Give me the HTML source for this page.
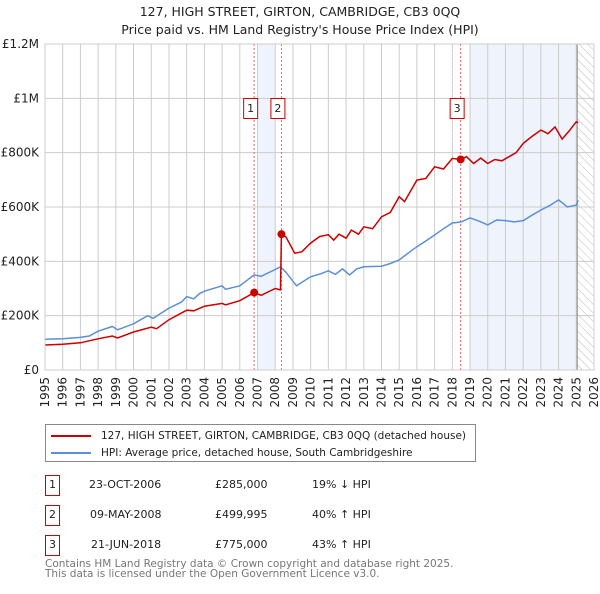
<!DOCTYPE html>
<html><head><meta charset="utf-8"><style>
body{margin:0;background:#fff;width:600px;height:590px;overflow:hidden;font-family:"DejaVu Sans","Liberation Sans",sans-serif}
svg text{font-family:"DejaVu Sans","Liberation Sans",sans-serif}
</style></head><body>
<svg id="c" width="600" height="590"></svg>
<script>
const yearTicks=[1995,1996,1997,1998,1999,2000,2001,2002,2003,2004,2005,2006,2007,2008,2009,2010,2011,2012,2013,2014,2015,2016,2017,2018,2019,2020,2021,2022,2023,2024,2025,2026];
const valueTicks=[0,200000,400000,600000,800000,1000000,1200000];
const valueTickLabels=["£0","£200K","£400K","£600K","£800K","£1M","£1.2M"];
const hpiYears=[1995,1996,1997,1997.5,1998,1998.8,1999.1,2000,2000.8,2001.1,2002,2002.7,2003,2003.4,2003.7,2004,2005,2005.2,2006,2006.8,2007.2,2008,2008.3,2008.6,2009.2,2010,2010.6,2011,2011.4,2011.8,2012.2,2012.6,2013,2014,2014.5,2015,2015.5,2016,2016.5,2017,2017.5,2018,2018.5,2019,2019.5,2020,2020.5,2021,2021.5,2022,2022.5,2023,2023.5,2024,2024.5,2025,2025.1];
const hpiValues=[113000,115000,120000,125000,143000,160000,148000,170000,200000,190000,228000,250000,270000,262000,280000,290000,310000,297000,310000,350000,345000,370000,380000,360000,310000,343000,355000,365000,352000,372000,350000,372000,380000,382000,392000,405000,430000,454000,475000,497000,520000,541000,545000,560000,548000,534000,552000,550000,545000,550000,570000,589000,605000,626000,600000,607000,625000,638000];
const redYears=[1995,1996,1997,1998,1998.8,1999.1,2000,2001,2001.3,2002,2003,2003.4,2004,2005,2005.2,2006,2006.81,2007.2,2008,2008.3,2008.35,2008.6,2009.1,2009.5,2010,2010.5,2011,2011.3,2011.6,2012,2012.3,2012.7,2013,2013.5,2014,2014.5,2015,2015.3,2016,2016.5,2017,2017.5,2018,2018.47,2018.8,2019.2,2019.6,2020,2020.4,2020.8,2021.2,2021.6,2022,2022.5,2023,2023.4,2023.8,2024.2,2024.6,2025,2025.1];
const redValues=[92000,95000,100000,115000,125000,118000,140000,158000,152000,185000,220000,218000,235000,245000,240000,255000,285000,275000,300000,295000,499995,490000,430000,435000,467000,491000,498000,478000,500000,485000,515000,500000,527000,520000,564000,580000,638000,620000,699000,705000,748000,740000,779000,775000,785000,760000,780000,760000,775000,770000,785000,800000,834000,860000,883000,870000,895000,850000,880000,914000,910000];
const sales=[{n:"1",y:2006.81,v:285000},{n:"2",y:2008.35,v:499995},{n:"3",y:2018.47,v:775000}];
const L=45,R=594,T=44,B=370;
const X=y=>L+(y-1995)*(R-L)/31;
const Y=v=>B-v*(B-T)/1200000;
const svg=document.getElementById('c');const NS="http://www.w3.org/2000/svg";
function el(t,a,p){const e=document.createElementNS(NS,t);for(const k in a)e.setAttribute(k,a[k]);(p||svg).appendChild(e);return e;}
const defs=el('defs',{});
const pat=el('pattern',{id:'h',width:6,height:6,patternUnits:'userSpaceOnUse',patternTransform:'rotate(-45)'},defs);
el('line',{x1:0,y1:0,x2:0,y2:6,stroke:'#bbb','stroke-width':1},pat);
let s=el('rect',{x:X(2007),y:T,width:X(2008)-X(2007),height:B-T,fill:'#eef3fc'});

s=el('rect',{x:X(2019),y:T,width:X(2025.05)-X(2019),height:B-T,fill:'#eef3fc'});

s=el('rect',{x:X(2025.05),y:T,width:R-X(2025.05),height:B-T,fill:'url(#h)'});

yearTicks.forEach(yr=>{const g=el('line',{x1:X(yr),x2:X(yr),y1:T,y2:B,stroke:'#ccc'});

const t=el('text',{x:0,y:0,transform:`translate(${X(yr)+4},${B+7}) rotate(-90)`,'text-anchor':'end','font-size':12,fill:'#222'});t.textContent=yr;
});
valueTicks.forEach((v,i)=>{const g=el('line',{x1:L,x2:R,y1:Y(v),y2:Y(v),stroke:'#ccc'});

const t=el('text',{x:39,y:Y(v)+4,'text-anchor':'end','font-size':12,fill:'#222'});t.textContent=valueTickLabels[i];
});
s=el('line',{x1:X(2025.05),x2:X(2025.05),y1:T,y2:B,stroke:'#888'});

sales.forEach(d=>{const l=el('line',{x1:X(d.y),x2:X(d.y),y1:T,y2:B,stroke:'#e66','stroke-dasharray':'2,2'});
});
const pts=(xs,vs)=>xs.map((x,i)=>X(x).toFixed(1)+','+Y(vs[i]).toFixed(1)).join(' ');
s=el('polyline',{points:pts(hpiYears,hpiValues),fill:'none',stroke:'#5b8fd6','stroke-width':1.5});

s=el('polyline',{points:pts(redYears,redValues),fill:'none',stroke:'#cc0000','stroke-width':1.5});

sales.forEach(d=>{const c=el('circle',{cx:X(d.y),cy:Y(d.v),r:4,fill:'#cc0000'});

const bx=el('rect',{x:X(d.y)-10.5,y:98.5,width:14,height:20,fill:'#fff',stroke:'#cc0000'});

const t=el('text',{x:X(d.y)-3.5,y:112,'text-anchor':'middle','font-size':11,fill:'#222'});t.textContent=d.n;
});
s=el('rect',{x:L,y:T,width:R-L,height:B-T,fill:'none',stroke:'#ccc'});

</script>
<div style="position:absolute;left:0;top:3px;width:600px;text-align:center;font-size:12.5px;line-height:18px;color:#222">127, HIGH STREET, GIRTON, CAMBRIDGE, CB3 0QQ<br>Price paid vs. HM Land Registry's House Price Index (HPI)</div>
<div style="position:absolute;left:45px;top:424px;width:429px;height:36px;border:1px solid #888;font-size:10.5px;color:#222">
<div style="position:absolute;left:5px;top:5px;white-space:nowrap"><span style="display:inline-block;width:40px;height:2px;background:#cc0000;vertical-align:middle;margin-right:10px"></span>127, HIGH STREET, GIRTON, CAMBRIDGE, CB3 0QQ (detached house)</div>
<div style="position:absolute;left:5px;top:22px;white-space:nowrap"><span style="display:inline-block;width:40px;height:2px;background:#5b8fd6;vertical-align:middle;margin-right:10px"></span>HPI: Average price, detached house, South Cambridgeshire</div>
</div>
<div style="font-size:11px;color:#222">
<div>
<div style="position:absolute;left:45px;top:475px;width:13px;height:19px;border:1px solid #cc0000;text-align:center;line-height:18px">1</div>
<div style="position:absolute;left:89px;top:478px">23-OCT-2006</div><div style="position:absolute;left:215px;top:478px">£285,000</div><div style="position:absolute;left:312px;top:478px">19% ↓ HPI</div></div>
<div>
<div style="position:absolute;left:45px;top:505px;width:13px;height:19px;border:1px solid #cc0000;text-align:center;line-height:18px">2</div>
<div style="position:absolute;left:90px;top:508px">09-MAY-2008</div><div style="position:absolute;left:215px;top:508px">£499,995</div><div style="position:absolute;left:312px;top:508px">40% ↑ HPI</div></div>
<div>
<div style="position:absolute;left:45px;top:535px;width:13px;height:19px;border:1px solid #cc0000;text-align:center;line-height:18px">3</div>
<div style="position:absolute;left:91px;top:538px">21-JUN-2018</div><div style="position:absolute;left:215px;top:538px">£775,000</div><div style="position:absolute;left:312px;top:538px">43% ↑ HPI</div></div>
</div>
<div style="position:absolute;left:45px;top:559px;font-size:10.5px;line-height:10px;color:#777">Contains HM Land Registry data © Crown copyright and database right 2025.<br>This data is licensed under the Open Government Licence v3.0.</div>
</body></html>
